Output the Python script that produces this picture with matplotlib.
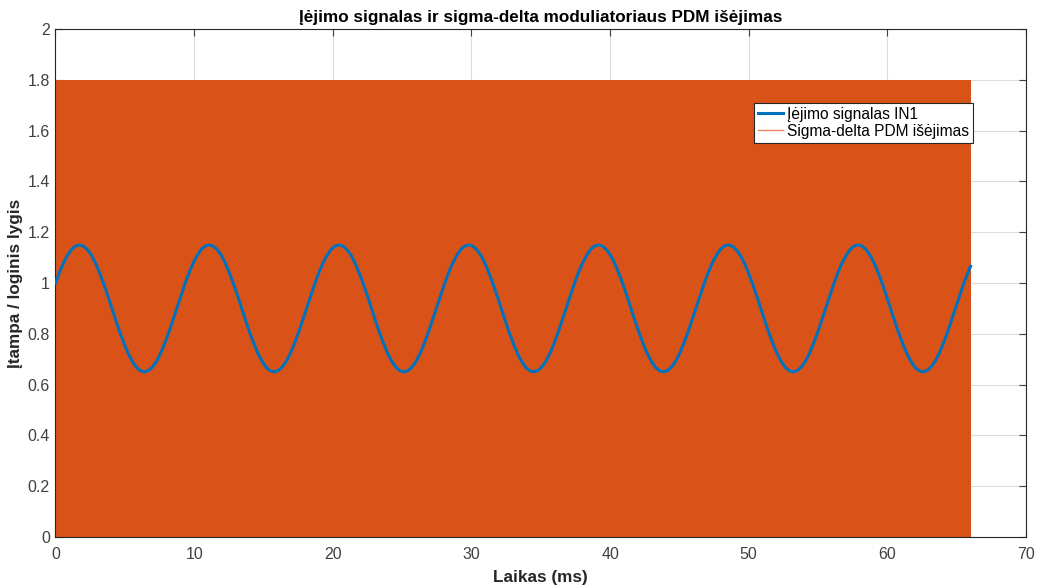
import numpy as np
import matplotlib.pyplot as plt
from matplotlib.lines import Line2D

plt.rcParams['font.family'] = ['Liberation Sans', 'DejaVu Sans']

# input signal IN1, one period (32 samples / period of ~9.36 ms)
in1_period_ms = 9.36
in1_one_period = [1.000, 1.043, 1.080, 1.110, 1.133, 1.146, 1.150, 1.144,
                  1.129, 1.106, 1.074, 1.035, 0.992, 0.945, 0.896, 0.847,
                  0.800, 0.758, 0.720, 0.690, 0.667, 0.654, 0.650, 0.656,
                  0.671, 0.694, 0.726, 0.765, 0.808, 0.856, 0.904, 0.953]
in1_cycles = 7
in1_last_t = 66.0
in1_last_v = 1.066

# sigma-delta PDM output: switches between these levels until the end time
pdm_levels = [0.0, 1.8]
pdm_time = [0.0, 66.0]

title = 'Įėjimo signalas ir sigma-delta moduliatoriaus PDM išėjimas'
xlabel = 'Laikas (ms)'
ylabel = 'Įtampa / loginis lygis'
legend_labels = ['Įėjimo signalas IN1', 'Sigma-delta PDM išėjimas']

blue = '#0072BD'
orange = '#D95319'
axcol = '#262626'

in1_values = in1_one_period * in1_cycles + [in1_one_period[0]]
in1_t = np.linspace(0, in1_period_ms * in1_cycles, len(in1_values))
in1_t = np.append(in1_t, in1_last_t)
in1_values = in1_values + [in1_last_v]

fig = plt.figure(figsize=(10.43, 5.87), dpi=100)
ax = fig.add_axes([0.0532, 0.0852, 0.9305, 0.8654])

ax.fill_between(pdm_time, pdm_levels[0], pdm_levels[1], color=orange, lw=0, zorder=2)
ax.plot(in1_t, in1_values, color=blue, lw=2.2, zorder=3)

ax.set_xlim(0, 70)
ax.set_ylim(0, 2)
ax.set_xticks(np.arange(0, 71, 10))
ax.set_yticks(np.arange(0, 2.01, 0.2))
ax.set_yticklabels(['0', '0.2', '0.4', '0.6', '0.8', '1', '1.2', '1.4', '1.6', '1.8', '2'])
ax.grid(True, color=axcol, alpha=0.15, lw=0.8, zorder=0)
ax.set_axisbelow(True)
ax.tick_params(direction='in', top=True, right=True, length=5, width=0.8,
               colors='#404040', labelsize=11.5)
ax.tick_params(axis='x', pad=7)
ax.tick_params(axis='y', pad=4)
for s in ax.spines.values():
    s.set_color(axcol)
    s.set_linewidth(0.8)

ax.set_title(title, fontsize=12.3, fontweight='bold', color='black', pad=5)
ax.set_xlabel(xlabel, fontsize=12.3, fontweight='bold', color=axcol, labelpad=6)
ax.set_ylabel(ylabel, fontsize=12.3, fontweight='bold', color=axcol, labelpad=3)

handles = [Line2D([0], [0], color=blue, lw=2.2), Line2D([0], [0], color='#E8875A', lw=1.0)]
leg = ax.legend(handles, legend_labels, loc='upper right', bbox_to_anchor=(0.945, 0.855),
                fontsize=11.2, frameon=True, fancybox=False, framealpha=1,
                edgecolor=axcol, borderpad=0.25, handlelength=1.6, handletextpad=0.25,
                labelspacing=0.15, borderaxespad=0)
leg.get_frame().set_linewidth(0.8)

fig.savefig('out.png', dpi=100, facecolor='white')
